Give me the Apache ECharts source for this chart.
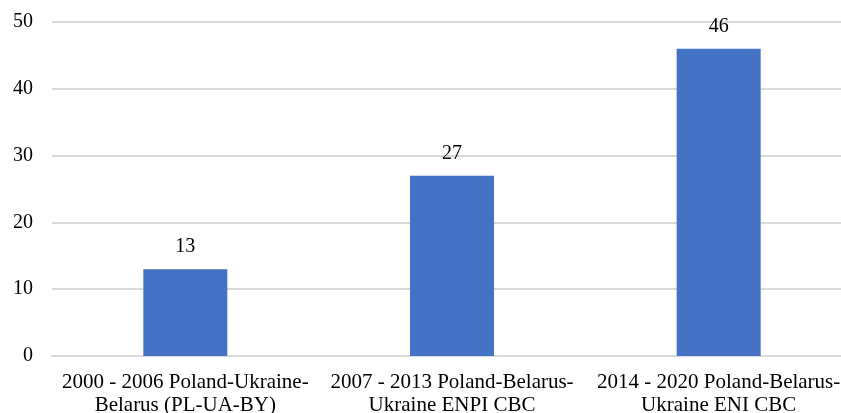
<!DOCTYPE html>
<html><head><meta charset="utf-8">
<script src="https://cdn.jsdelivr.net/npm/echarts@6/dist/echarts.min.js"></script>
<style>html,body{margin:0;padding:0;background:#fff}#c{width:841px;height:413px}</style>
</head><body><div id="c"></div>
<script>
const categories = [
  "2000 - 2006 Poland-Ukraine-\nBelarus (PL-UA-BY)",
  "2007 - 2013 Poland-Belarus-\nUkraine ENPI CBC",
  "2014 - 2020 Poland-Belarus-\nUkraine ENI CBC"
];
const values = [13, 27, 46];
const yTicks = {min: 0, max: 50, interval: 10};

const font = "'Liberation Serif', 'Times New Roman', serif";
const chart = echarts.init(document.getElementById('c'), null, {renderer: 'canvas'});
chart.setOption({
  animation: false,
  grid: {left: 52, width: 800, top: 22, bottom: 57, containLabel: false, outerBoundsMode: 'none'},
  xAxis: {
    type: 'category',
    data: categories,
    axisLine: {show: true, lineStyle: {color: '#d9d9d9', width: 2}},
    axisTick: {show: false},
    axisLabel: {color: '#000', fontFamily: font, fontSize: 21, lineHeight: 23, margin: 15, interval: 0}
  },
  yAxis: {
    type: 'value',
    min: yTicks.min, max: yTicks.max, interval: yTicks.interval,
    axisLine: {show: false},
    axisTick: {show: false},
    splitLine: {lineStyle: {color: '#d9d9d9', width: 2}},
    axisLabel: {color: '#000', fontFamily: font, fontSize: 20, margin: 19}
  },
  series: [{
    type: 'bar',
    data: values,
    barWidth: 84,
    itemStyle: {color: '#4472C4'},
    label: {show: true, position: 'top', distance: 12, color: '#000', fontFamily: font, fontSize: 20}
  }]
});
</script></body></html>
